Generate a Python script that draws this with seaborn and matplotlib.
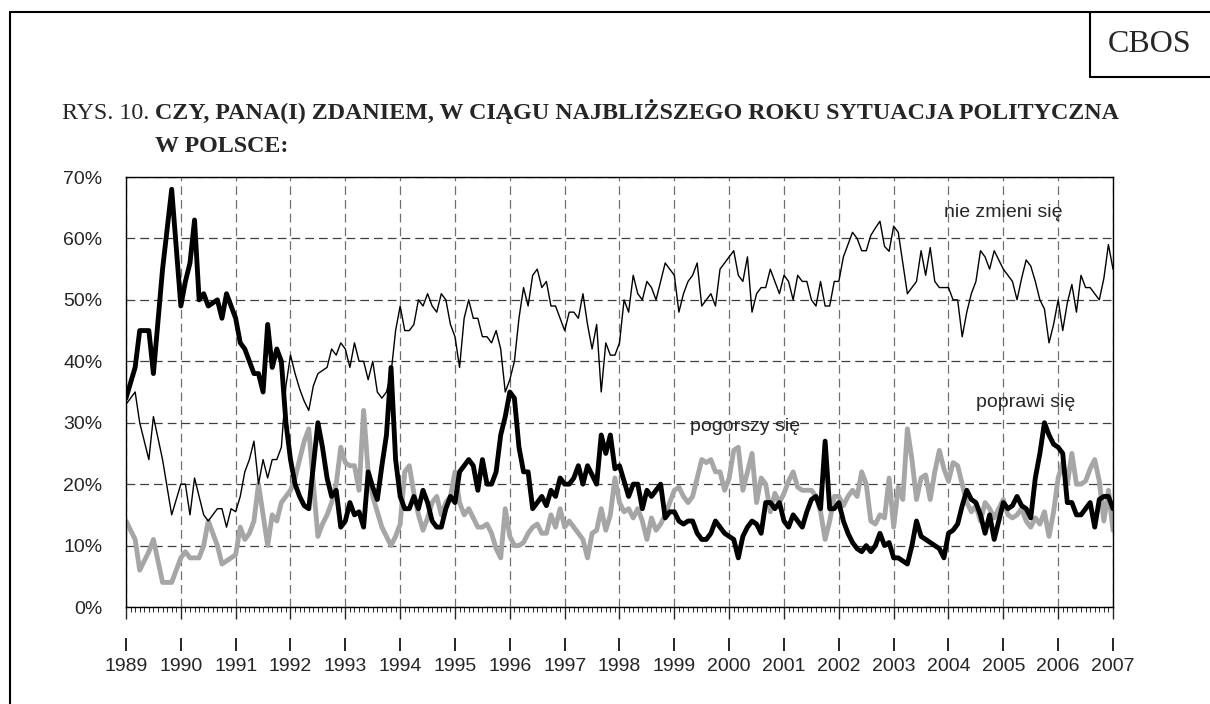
import numpy as np
import matplotlib
matplotlib.use('Agg')
import matplotlib.pyplot as plt
import seaborn as sns
from matplotlib.ticker import MultipleLocator
from matplotlib.lines import Line2D

sns.set_style('white')
plt.rcParams['font.family'] = ['Liberation Sans', 'DejaVu Sans']

# miesiące od stycznia 1989 (w 1989 badania nie co miesiąc)
miesiace = [0, 2, 3, 5, 6, 8, 10] + list(range(12, 217))

poprawi = [34, 39, 45, 45, 38, 55, 68,
           49, 53, 56, 63, 50, 51, 49, 49.5, 50, 47, 51, 49,
           47, 43, 42, 40, 38, 38, 35, 46, 39, 42, 40, 30,
           24, 20, 18, 16.5, 16, 23, 30, 26, 21, 18, 19, 13,
           14, 17, 15, 15.5, 13, 22, 19.5, 17.5, 23, 28, 39, 24,
           18, 16, 16, 18, 16, 19, 17, 14, 13, 13, 16, 18,
           17, 22, 23, 24, 23, 19, 24, 20, 20, 22, 28, 31,
           35, 34, 26, 22, 22, 16, 17, 18, 16.5, 19, 18, 21,
           20, 20, 21, 23, 20, 23, 21.5, 20, 28, 25, 28, 22.5,
           23, 20.5, 18, 20, 20, 16, 19, 18, 19, 20, 14.5, 15.5,
           15.5, 14, 13.5, 14, 14, 12, 11, 11, 12, 14, 13, 12,
           11.5, 11, 8, 11.5, 13, 14, 13.5, 12, 17, 17, 16, 17,
           14, 13, 15, 14, 13, 15.5, 17.5, 18, 16, 27, 16, 16,
           17, 14, 12, 10.5, 9.5, 9, 10, 9, 10, 12, 10, 10.5,
           8, 8, 7.5, 7, 10, 14, 11.5, 11, 10.5, 10, 9.5, 8,
           12, 12.5, 13.5, 16.5, 19, 17.5, 17, 15, 12, 15, 11, 14,
           17, 16, 16.5, 18, 16.5, 16, 14.5, 21, 25, 30, 28, 26.5,
           26, 25, 17, 17, 15, 15, 16, 17, 13, 17.5, 18, 18, 16]

nie_zmieni = [33, 35, 30, 24, 31, 24, 15,
              20, 20, 15, 21, 18, 15, 14, 15, 16, 16, 13, 16,
              15.5, 18, 22, 24, 27, 20, 24, 21, 24, 24, 26, 36,
              41, 38, 35.5, 33.5, 32, 36, 38, 38.5, 39, 42, 41, 43,
              42, 39, 43, 40, 40, 37, 40, 35, 34, 35, 38, 45,
              49, 45, 45, 46, 50, 49, 51, 49, 48, 51, 50, 46,
              44, 39, 47, 50, 47, 47, 44, 44, 43, 45, 42, 35,
              37, 40, 47, 52, 49, 54, 55, 52, 53, 49, 49, 47,
              45, 48, 48, 47, 51, 46, 42, 46, 35, 43, 41, 41,
              43, 50, 48, 54, 51, 50, 53, 52, 50, 53, 56, 55,
              54, 48, 51, 53, 54, 56, 49, 50, 51, 49, 55, 56,
              57, 58, 54, 53, 57, 48, 51, 52, 52, 55, 53, 51,
              54, 53, 50, 54, 53, 53, 50, 49, 53, 49, 49, 53,
              53, 57, 59, 61, 60, 58, 58, 60.5, 61.7, 62.8, 58.7, 57.9,
              62, 61, 56, 51, 52, 53, 58, 54, 58.5, 53, 52, 52,
              52, 50, 50, 44, 48, 51, 53, 58, 57, 55, 58, 56.5,
              55, 54, 53, 50, 53.5, 56.5, 55.5, 53, 50, 48.5, 43, 46,
              50, 45, 49.5, 52.5, 48, 54, 52, 52, 51, 50, 53.5, 59, 55]

pogorszy = [14, 11, 6, 9, 11, 4, 4,
            8, 9, 8, 8, 8, 10, 14, 12, 10, 7, 7.5, 8,
            8.5, 13, 11, 12, 14, 20, 15, 10, 15, 14, 17, 18,
            19, 21, 24, 27, 29, 20, 11.5, 13.5, 15, 17, 20, 26,
            23.5, 23, 23, 19, 32, 22, 18, 15.5, 13, 11.5, 10, 11.5,
            13.5, 22, 23, 18.5, 15, 12.5, 14.5, 17, 18, 15, 17, 18,
            22, 17, 15, 16, 14.5, 13, 13, 13.5, 12, 9.5, 8, 16,
            11.5, 10, 10, 10.5, 12, 13, 13.5, 12, 12, 15, 13, 16,
            13, 14, 13, 12, 11, 8, 12, 12.5, 16, 12.5, 15, 21,
            17, 15.5, 16, 14.5, 16, 14, 11, 14.5, 12.5, 13.5, 15, 17,
            19, 19.5, 18, 17, 18, 21, 24, 23.5, 24, 22, 22, 19,
            21, 25.5, 26, 19, 22, 25, 17, 21, 20, 15.5, 18.5, 17,
            18.5, 20.5, 22, 19.5, 19, 19, 19, 18, 15.5, 11, 14, 18,
            18, 16.5, 18, 19, 18, 22, 20, 14, 13.5, 15, 14.5, 21,
            13, 19.5, 17.5, 29, 24, 17.5, 21, 21.5, 17.5, 22, 25.5, 22.5,
            20.5, 23.5, 23, 20, 17, 15.5, 16.5, 14, 17, 16, 14.5, 16,
            17.5, 15, 14.5, 15, 16, 14, 13, 14.5, 13.5, 15.5, 11.5, 15.5,
            21, 23.5, 20, 25, 20, 20, 20.5, 22.5, 24, 20.5, 14, 19, 12.5]

lata_osi = list(range(1989, 2008))
procenty = list(range(0, 71, 10))

lata = 1989 + np.array(miesiace) / 12

fig = plt.figure(figsize=(12.1, 7.04), dpi=100)
ax = fig.add_axes([126 / 1210, 97 / 704, 987 / 1210, 430 / 704])

sns.lineplot(x=lata, y=pogorszy, color='#a6a6a6', lw=3.5, ax=ax, sort=False, estimator=None)
sns.lineplot(x=lata, y=poprawi, color='black', lw=3.5, ax=ax, sort=False, estimator=None)
sns.lineplot(x=lata, y=nie_zmieni, color='black', lw=1.0, ax=ax, sort=False, estimator=None)

ax.set_xlim(1989, 2007)
ax.set_ylim(0, 70)
ax.set_xticks(lata_osi)
ax.set_xticklabels([str(r) for r in lata_osi])
ax.xaxis.set_minor_locator(MultipleLocator(1 / 12))
ax.set_yticks(procenty)
ax.set_yticklabels(['%d%%' % p for p in procenty])
ax.tick_params(axis='x', which='major', length=8.5, width=1, direction='out', pad=28,
               labelsize=14, bottom=True)
ax.tick_params(axis='x', which='minor', length=3.5, width=0.7, direction='out', bottom=True)
ax.tick_params(axis='y', length=0, pad=17, labelsize=14)

# kreski nad rocznikami (osobny rząd znaczników)
kreski = ax.secondary_xaxis(-31 / 430)
kreski.set_xticks(lata_osi)
kreski.tick_params(axis='x', length=9.5, width=1.2, direction='out', labelbottom=False,
                   color='black')
kreski.spines['bottom'].set_visible(False)

ax.set_axisbelow(True)
ax.grid(True, axis='y', which='major', color='#404040', ls=(0, (7, 4)), lw=0.9)
ax.grid(True, axis='x', which='major', color='#707070', ls=(0, (7, 4)), lw=0.9)
for s in ax.spines.values():
    s.set_color('black')
    s.set_linewidth(1.0)

ax.text(2003.92, 64.3, 'nie zmieni się', va='center', fontsize=14)
ax.text(2004.5, 33.3, 'poprawi się', va='center', fontsize=14)
ax.text(1999.29, 29.4, 'pogorszy się', va='center', fontsize=14)

# ramka i tytuł
serif = ['Liberation Serif', 'DejaVu Serif']
fig.add_artist(Line2D([10 / 1210, 10 / 1210], [0, 1 - 12 / 704], transform=fig.transFigure,
                      color='black', lw=1.5))
fig.add_artist(Line2D([10 / 1210, 1], [1 - 12 / 704, 1 - 12 / 704], transform=fig.transFigure,
                      color='black', lw=1.5))
fig.add_artist(Line2D([1090 / 1210, 1090 / 1210], [1 - 12 / 704, 1 - 77 / 704],
                      transform=fig.transFigure, color='black', lw=1.5))
fig.add_artist(Line2D([1090 / 1210, 1], [1 - 77 / 704, 1 - 77 / 704],
                      transform=fig.transFigure, color='black', lw=1.5))
fig.text(1150 / 1210, 1 - 44 / 704, 'CBOS', family=serif, fontsize=23, ha='center', va='center')

t1 = fig.text(62 / 1210, 1 - 124 / 704, 'RYS. 10. ', family=serif, fontsize=17.3, va='bottom')
t2 = ax.annotate('CZY, PANA(I) ZDANIEM, W CIĄGU NAJBLIŻSZEGO ROKU SYTUACJA POLITYCZNA',
                 xy=(1, 0), xycoords=t1, va='bottom', ha='left', family=serif,
                 fontsize=17.3, fontweight='bold')
ax.annotate('W POLSCE:', xy=(0, 0), xycoords=t2, xytext=(0, -33), textcoords='offset pixels',
            va='bottom', ha='left', family=serif, fontsize=17.3, fontweight='bold')

fig.savefig('out.png', dpi=100)
